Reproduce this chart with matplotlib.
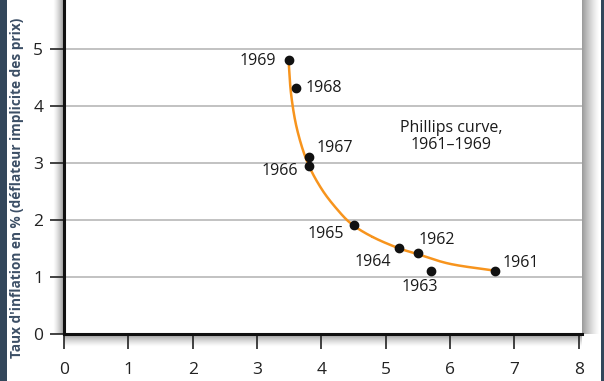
import numpy as np
import matplotlib
matplotlib.use("Agg")
import matplotlib.pyplot as plt
from matplotlib.patches import Rectangle

plt.rcParams['font.family'] = ['Open Sans', 'DejaVu Sans']

# ---- data ----
years = ["1961", "1962", "1963", "1964", "1965", "1966", "1967", "1968", "1969"]
unemployment = [6.7, 5.5, 5.7, 5.2, 4.5, 3.8, 3.8, 3.6, 3.5]
inflation = [1.1, 1.42, 1.1, 1.51, 1.92, 2.94, 3.1, 4.31, 4.8]

# guide points of the hand-drawn Phillips curve
curve_x = [3.49, 3.53, 3.62, 3.78, 4.00, 4.25, 4.48, 4.80, 5.19, 5.50, 6.00, 6.70]
curve_y = [4.80, 4.20, 3.60, 3.02, 2.55, 2.18, 1.92, 1.70, 1.51, 1.40, 1.23, 1.11]

x_ticks = [0, 1, 2, 3, 4, 5, 6, 7, 8]
y_ticks = [0, 1, 2, 3, 4, 5]
y_label = "Taux d'inflation en % (déflateur implicite des prix)"
curve_label = "Phillips curve,\n1961–1969"

# label offsets in pixels (dx, dy, ha)
label_offsets = {
    "1961": (7, 8, 'left'),
    "1962": (1, 13, 'left'),
    "1963": (-11, -16, 'center'),
    "1964": (-8, -14, 'right'),
    "1965": (-10, -9, 'right'),
    "1966": (-10, -5, 'right'),
    "1967": (8, 9, 'left'),
    "1968": (10, 0, 'left'),
    "1969": (-13, -1, 'right'),
}

ORANGE = '#f7941d'
DARK = '#33475b'

W, H = 604, 381
fig = plt.figure(figsize=(W / 100, H / 100), dpi=100, facecolor='white')

# main axes geometry (pixels)
ax_l, ax_r, ax_b, ax_t = 64, 582, 334, 0
ax = fig.add_axes([ax_l / W, (H - ax_b) / H, (ax_r - ax_l) / W, (ax_b - ax_t) / H], zorder=5)

# shadows (gradients) around the plot panel
def shadow(x0, y0, x1, y1, direction, amax=0.38):
    sa = fig.add_axes([x0 / W, (H - y1) / H, (x1 - x0) / W, (y1 - y0) / H], zorder=1)
    n = 64
    ramp = np.linspace(amax, 0, n) ** 1.3 / amax ** 0.3
    img = np.zeros((1, n, 4)) if direction in ('left', 'right') else np.zeros((n, 1, 4))
    if direction == 'right':
        img[0, :, 3] = ramp
    elif direction == 'left':
        img[0, :, 3] = ramp[::-1]
    elif direction == 'down':
        img[:, 0, 3] = ramp
    sa.imshow(img, aspect='auto', extent=(0, 1, 0, 1), interpolation='bilinear')
    sa.set_axis_off()

shadow(ax_r, 0, 600, ax_b, 'right', 0.40)
shadow(53, 0, ax_l, ax_b, 'left', 0.40)
shadow(ax_l, ax_b, ax_r, 347, 'down', 0.40)

# dark frame strips
fig.patches.append(Rectangle((0, 0), 7 / W, 1, transform=fig.transFigure,
                             facecolor=DARK, edgecolor='none', zorder=0))
fig.patches.append(Rectangle((601 / W, 0), 3 / W, 1, transform=fig.transFigure,
                             facecolor=DARK, edgecolor='none', zorder=0))

ax.set_facecolor('white')
ax.set_xlim(0, 8.05)
ax.set_ylim(0, 334 / 57)

for yv in y_ticks[1:]:
    ax.axhline(yv, color='#bdbdbd', lw=1.3, zorder=1)

# curve via Catmull-Rom through guide points
P = np.column_stack([curve_x, curve_y])
P = np.vstack([P[0] * 2 - P[1], P, P[-1] * 2 - P[-2]])
seg = []
t = np.linspace(0, 1, 30)[:, None]
for i in range(1, len(P) - 2):
    p0, p1, p2, p3 = P[i - 1], P[i], P[i + 1], P[i + 2]
    pts = 0.5 * ((2 * p1) + (-p0 + p2) * t + (2 * p0 - 5 * p1 + 4 * p2 - p3) * t ** 2
                 + (-p0 + 3 * p1 - 3 * p2 + p3) * t ** 3)
    seg.append(pts)
C = np.vstack(seg)
ax.plot(C[:, 0], C[:, 1], color=ORANGE, lw=1.8, zorder=3, solid_capstyle='round')

ax.plot(unemployment, inflation, 'o', color='#111111', ms=6, zorder=4)

for yr, ux, iy in zip(years, unemployment, inflation):
    dx, dy, ha = label_offsets[yr]
    ax.annotate(yr, (ux, iy), xytext=(dx, dy), textcoords='offset pixels',
                ha=ha, va='center', fontsize=11.5, color='#1a1a1a', zorder=6)

ax.text(6.02, 3.46, curve_label, ha='center', va='center', fontsize=11.5,
        color='#1a1a1a', linespacing=1.05, zorder=6)

for s in ['top', 'right']:
    ax.spines[s].set_visible(False)
for s in ['left', 'bottom']:
    ax.spines[s].set_linewidth(2.2)
    ax.spines[s].set_color('#111111')

ax.set_xticks(x_ticks)
ax.set_xticklabels([str(v) for v in x_ticks])
ax.set_yticks(y_ticks)
ax.set_yticklabels([str(v) for v in y_ticks])
ax.tick_params(axis='x', length=11, width=1.2, color='#222222', pad=9,
               labelsize=12.5, labelcolor='#222222')
ax.tick_params(axis='y', length=10, width=1.2, color='#222222', pad=5,
               labelsize=12.5, labelcolor='#222222')

fig.text(17 / W, 1 - 188 / H, y_label, rotation=90, ha='center', va='center',
         fontsize=9.8, fontweight='bold', color='#3c4f66')

fig.savefig('out.png', dpi=100, facecolor='white')
